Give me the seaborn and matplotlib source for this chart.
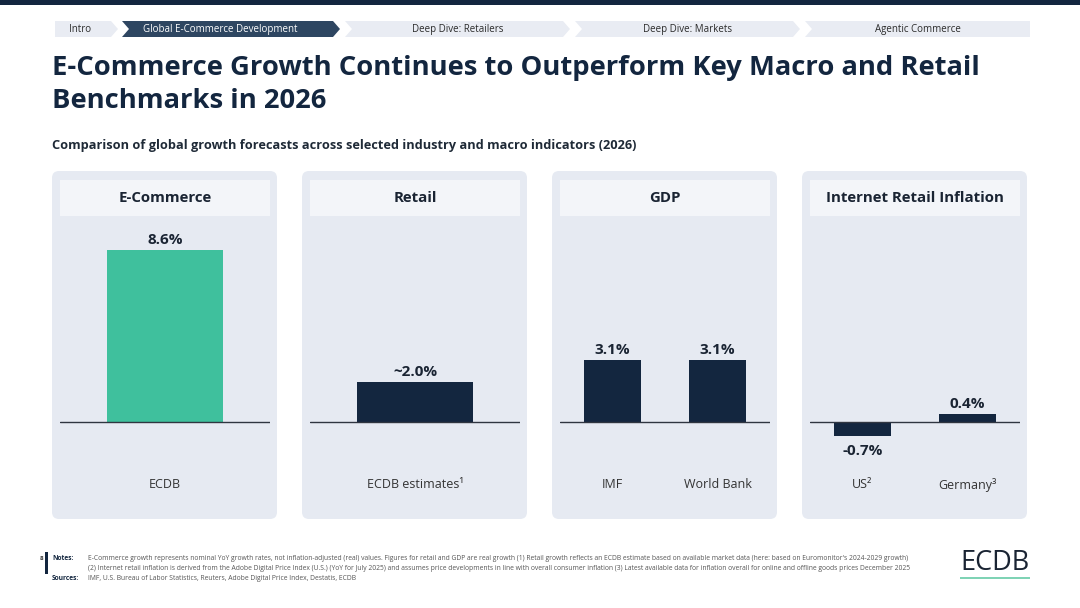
import matplotlib.pyplot as plt
import seaborn as sns
from matplotlib.patches import FancyBboxPatch, Polygon, Rectangle

sns.set_theme(style='white')
plt.rcParams['font.family'] = ['Open Sans', 'DejaVu Sans']

# data
panel_titles = ['E-Commerce', 'Retail', 'GDP', 'Internet Retail Inflation']
panel_cats = [['ECDB'], ['ECDB estimates¹'], ['IMF', 'World Bank'], ['US²', 'Germany³']]
panel_vals = [[8.6], [2.0], [3.1, 3.1], [-0.7, 0.4]]
panel_labels = [['8.6%'], ['~2.0%'], ['3.1%', '3.1%'], ['-0.7%', '0.4%']]
panel_colors = [['#3fc09d'], ['#13263f'], ['#13263f', '#13263f'], ['#13263f', '#13263f']]

nav_items = ['Intro', 'Global E-Commerce Development', 'Deep Dive: Retailers',
             'Deep Dive: Markets', 'Agentic Commerce']
nav_x = [(55, 118), (122, 340), (345, 570), (575, 800), (805, 1030)]

NAVY = '#13263f'
W, H = 1080, 608

fig = plt.figure(figsize=(10.8, 6.08), dpi=100, facecolor='white')

# background layer in pixel coords
bg = fig.add_axes([0, 0, 1, 1])
bg.set_xlim(0, W)
bg.set_ylim(H, 0)
bg.axis('off')

bg.add_patch(Rectangle((0, 0), W, 5, color=NAVY, lw=0))

# breadcrumb
for i, (name, (x0, x1)) in enumerate(zip(nav_items, nav_x)):
    y0, y1 = 21, 37
    ym = (y0 + y1) / 2
    tip = 7
    pts = [(x0, y0)]
    if i < len(nav_items) - 1:
        pts += [(x1 - tip, y0), (x1, ym), (x1 - tip, y1)]
    else:
        pts += [(x1, y0), (x1, y1)]
    pts += [(x0, y1)]
    if i > 0:
        pts += [(x0 + tip, ym)]
    active = i == 1
    bg.add_patch(Polygon(pts, closed=True, lw=0,
                         color='#2e4661' if active else '#e9ecf3'))
    if i == 0:
        tx, ha = 80, 'center'
    elif i == 1:
        tx, ha = x0 + 21, 'left'
    else:
        tx, ha = (x0 + x1) / 2, 'center'
    bg.text(tx, ym + 0.5, name, ha=ha, va='center', fontsize=7,
            color='white' if active else '#2b2b2b')

# titles
bg.text(52, 68, 'E-Commerce Growth Continues to Outperform Key Macro and Retail',
        fontsize=19.7, fontweight='bold', color=NAVY, va='center')
bg.text(52, 101, 'Benchmarks in 2026',
        fontsize=19.7, fontweight='bold', color=NAVY, va='center')
bg.text(52, 146, 'Comparison of global growth forecasts across selected industry and macro indicators (2026)',
        fontsize=9.2, fontweight='bold', color='#1f2a37', va='center')

# panels
panel_x = [52, 302, 552, 802]
for px, title in zip(panel_x, panel_titles):
    bg.add_patch(FancyBboxPatch((px, 171), 225, 348,
                                boxstyle='round,pad=0,rounding_size=7',
                                fc='#e6eaf2', ec='none'))
    bg.add_patch(Rectangle((px + 8, 180), 210, 36, fc='#f3f5f9', ec='none'))
    bg.text(px + 113, 198, title, ha='center', va='center', fontsize=10.8,
            fontweight='bold', color='#1a2433')

# bar charts, shared y scale: baseline at y=422, 20 px per percentage point
ax_top, ax_bot = 230, 472
for px, cats, vals, labs, cols in zip(panel_x, panel_cats, panel_vals,
                                      panel_labels, panel_colors):
    ax = fig.add_axes([(px + 8) / W, 1 - ax_bot / H, 210 / W, (ax_bot - ax_top) / H])
    ax.set_facecolor('none')
    sns.barplot(x=cats, y=vals, hue=cats, palette=cols, width=0.55,
                saturation=1, legend=False, linewidth=0, ax=ax)
    ax.set_ylim(-2.5, 9.6)
    ax.set_xlim(-0.5, len(cats) - 0.5)
    ax.axhline(0, color='#2f3540', lw=1)
    for cont, lab, v in zip(ax.containers, labs, vals):
        ax.bar_label(cont, labels=[lab], padding=2.5 if v >= 0 else 6,
                     fontsize=11, fontweight='bold', color='#1a2433')
    ax.set_yticks([])
    ax.tick_params(axis='x', length=0, pad=4, labelsize=9, labelcolor='#333333')
    for s in ax.spines.values():
        s.set_visible(False)
    ax.set_xlabel('')
    ax.set_ylabel('')

# footer
bg.text(40, 558, '8', fontsize=4.5, color='#333333', va='center', fontweight='bold')
bg.add_patch(Rectangle((45, 552), 2.5, 22, color=NAVY, lw=0))
bg.text(52, 558, 'Notes:', fontsize=4.8, fontweight='bold', color=NAVY, va='center')
bg.text(52, 578, 'Sources:', fontsize=4.8, fontweight='bold', color=NAVY, va='center')
note1 = ("E-Commerce growth represents nominal YoY growth rates, not inflation-adjusted (real) values. "
         "Figures for retail and GDP are real growth (1) Retail growth reflects an ECDB estimate based on "
         "available market data (here: based on Euromonitor's 2024-2029 growth)")
note2 = ("(2) Internet retail inflation is derived from the Adobe Digital Price Index (U.S.) (YoY for July 2025) "
         "and assumes price developments in line with overall consumer inflation (3) Latest available data for "
         "inflation overall for online and offline goods prices December 2025")
src = "IMF, U.S. Bureau of Labor Statistics, Reuters, Adobe Digital Price Index, Destatis, ECDB"
bg.text(88, 558, note1, fontsize=4.85, color='#555555', va='center')
bg.text(88, 568, note2, fontsize=4.85, color='#555555', va='center')
bg.text(88, 578, src, fontsize=4.85, color='#555555', va='center')

bg.text(995, 563, 'ECDB', fontsize=19.5, color='#1a2433', ha='center', va='center')
bg.add_patch(Rectangle((960, 577), 70, 2, color='#7fd3b5', lw=0))

fig.savefig('out.png', dpi=100, facecolor='white')
